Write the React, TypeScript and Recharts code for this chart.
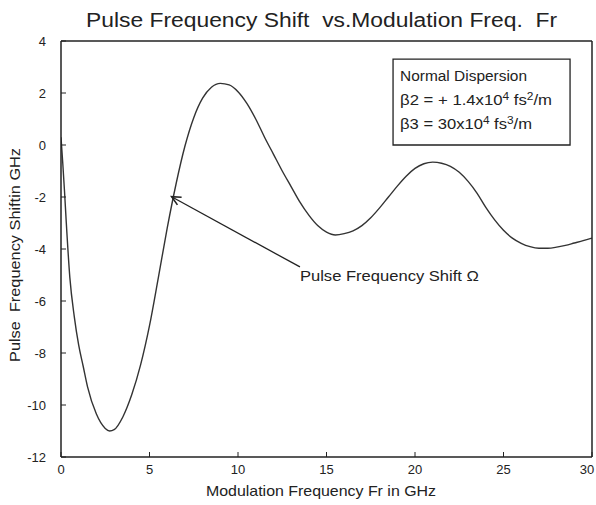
import React from 'react';
import { LineChart, Line, XAxis, YAxis, ReferenceArea, ReferenceLine } from 'recharts';

// modulation frequency Fr (GHz)
const freq = [
  0, 0.1, 0.2, 0.3, 0.5, 0.75, 1, 1.25, 1.5, 2, 2.5, 2.75, 3, 3.5, 4, 4.5, 5, 5.5, 6, 6.5,
  7, 7.5, 8, 8.5, 9, 9.5, 10, 10.5, 11, 11.5, 12, 12.5, 13, 13.5, 14, 14.5, 15, 15.5, 16, 16.5,
  17, 17.5, 18, 18.5, 19, 19.5, 20, 20.5, 21, 21.5, 22, 22.5, 23, 23.5, 24, 24.5, 25, 25.5, 26, 26.5,
  27, 27.5, 28, 28.5, 29, 29.5, 30,
];

// pulse frequency shift (GHz)
const shift = [
  0.3, -0.7, -1.8, -3.0, -5.1, -6.6, -7.7, -8.5, -9.3, -10.35, -10.9, -11.0, -10.95, -10.45, -9.6, -8.45, -6.95, -5.1, -3.2, -1.5,
  -0.05, 1.05, 1.8, 2.22, 2.37, 2.31, 2.05, 1.6, 1.0, 0.3, -0.35, -1.0, -1.6, -2.2, -2.7, -3.1, -3.35, -3.46, -3.41, -3.3,
  -3.1, -2.8, -2.42, -2.0, -1.58, -1.2, -0.9, -0.72, -0.66, -0.7, -0.82, -1.05, -1.4, -1.85, -2.4, -2.88, -3.28, -3.58, -3.78, -3.91,
  -3.97, -3.97, -3.93, -3.86, -3.77, -3.68, -3.58,
];

const xTicks = [0, 5, 10, 15, 20, 25, 30];
const yTicks = [-12, -10, -8, -6, -4, -2, 0, 2, 4];

// annotation anchors, in data units
const noteBox = { x1: 18.76, x2: 28.76, y1: 0, y2: 3.3 };
const arrowTail = { x: 13.5, y: -4.69 };
const arrowTip = { x: 6.25, y: -1.99 };

const data = freq.map((x, i) => ({ x, y: shift[i] }));

const FONT = '"Liberation Sans", Arial, sans-serif';
const INK = '#222';

const tickStyle = { fill: INK, fontSize: 13, fontFamily: FONT };

// last label sits against the right edge in the original, pull it in a bit
const XTick = (props: any) => {
  const { x, y, payload } = props;
  const shiftLeft = payload.value === 30 ? 5 : 0;
  return (
    <text x={x - shiftLeft} y={y} dy="0.71em" textAnchor="middle" fontSize={13} fontFamily={FONT} fill={INK}>
      {payload.value}
    </text>
  );
};

const NoteText = (props: any) => {
  const vb = props.viewBox || {};
  const x = vb.x + 7;
  const y = vb.y;
  const common = { x, fontSize: 14, fontFamily: FONT, fill: INK, lengthAdjust: 'spacingAndGlyphs' as const };
  return (
    <g>
      <text {...common} y={y + 22} textLength={127}>Normal Dispersion</text>
      <text {...common} y={y + 46} textLength={152} style={{ whiteSpace: 'pre' }}>
        {'β2 = + 1.4x10'}
        <tspan dy={-5} fontSize={10}>4</tspan>
        <tspan dy={5}>{' fs'}</tspan>
        <tspan dy={-5} fontSize={10}>2</tspan>
        <tspan dy={5}>/m</tspan>
      </text>
      <text {...common} y={y + 70} textLength={132} style={{ whiteSpace: 'pre' }}>
        {'β3 = 30x10'}
        <tspan dy={-5} fontSize={10}>4</tspan>
        <tspan dy={5}>{' fs'}</tspan>
        <tspan dy={-5} fontSize={10}>3</tspan>
        <tspan dy={5}>/m</tspan>
      </text>
    </g>
  );
};

const ArrowShape = (props: any) => {
  const { x1, y1, x2, y2 } = props;
  const ang = Math.atan2(y2 - y1, x2 - x1);
  const len = 10;
  const spread = 0.45;
  const a1 = { x: x2 - len * Math.cos(ang - spread), y: y2 - len * Math.sin(ang - spread) };
  const a2 = { x: x2 - len * Math.cos(ang + spread), y: y2 - len * Math.sin(ang + spread) };
  return (
    <g>
      <line x1={x1} y1={y1} x2={x2} y2={y2} stroke={INK} strokeWidth={1.3} />
      <polyline points={`${a1.x},${a1.y} ${x2},${y2} ${a2.x},${a2.y}`} fill="none" stroke={INK} strokeWidth={1.6} />
      <text x={x1} y={y1 + 14} fontSize={14} fontFamily={FONT} fill={INK} textLength={179} lengthAdjust="spacingAndGlyphs">
        Pulse Frequency Shift Ω
      </text>
    </g>
  );
};

const YTitle = () => (
  <text
    x={20}
    y={255}
    transform="rotate(-90, 20, 255)"
    textAnchor="middle"
    fontSize={14}
    fontFamily={FONT}
    fill={INK}
    textLength={214}
    lengthAdjust="spacingAndGlyphs"
    style={{ whiteSpace: 'pre' }}
  >
    {'Pulse  Frequency Shiftin GHz'}
  </text>
);

const XTitle = () => (
  <text
    x={321}
    y={496}
    textAnchor="middle"
    fontSize={15}
    fontFamily={FONT}
    fill={INK}
    textLength={230}
    lengthAdjust="spacingAndGlyphs"
  >
    Modulation Frequency Fr in GHz
  </text>
);

export default function App() {
  return (
    <div style={{ position: 'absolute', left: 0, top: 0, width: 596, height: 505, background: '#fff' }}>
      <svg width={596} height={40} style={{ position: 'absolute', left: 0, top: 0 }}>
        <text
          x={86}
          y={27}
          fontSize={20}
          fontFamily={FONT}
          fill={INK}
          textLength={471}
          lengthAdjust="spacingAndGlyphs"
          style={{ whiteSpace: 'pre' }}
        >
          {'Pulse Frequency Shift  vs.Modulation Freq.  Fr'}
        </text>
      </svg>
      <div style={{ position: 'absolute', left: 0, top: 0 }}>
        <LineChart width={596} height={505} data={data} margin={{ top: 40, right: 3, bottom: 0, left: 0 }}>
          <XAxis
            dataKey="x"
            type="number"
            domain={[0, 30]}
            ticks={xTicks}
            interval={0}
            allowDataOverflow
            height={48}
            tickSize={-5}
            tickMargin={13}
            axisLine={{ stroke: INK, strokeWidth: 1.5 }}
            tickLine={{ stroke: INK }}
            tick={<XTick />}
            label={<XTitle />}
          />
          <XAxis
            xAxisId="top"
            dataKey="x"
            type="number"
            orientation="top"
            domain={[0, 30]}
            ticks={xTicks}
            interval={0}
            allowDataOverflow
            height={1}
            tickSize={-5}
            axisLine={{ stroke: INK, strokeWidth: 1.5 }}
            tickLine={{ stroke: INK }}
            tick={false}
          />
          <YAxis
            dataKey="y"
            type="number"
            domain={[-12, 4]}
            ticks={yTicks}
            interval={0}
            allowDataOverflow
            width={61}
            tickSize={-5}
            tickMargin={20}
            axisLine={{ stroke: INK, strokeWidth: 1.5 }}
            tickLine={{ stroke: INK }}
            tick={tickStyle}
            label={<YTitle />}
          />
          <YAxis
            yAxisId="right"
            dataKey="y"
            type="number"
            orientation="right"
            domain={[-12, 4]}
            ticks={yTicks}
            interval={0}
            allowDataOverflow
            width={1}
            tickSize={-5}
            axisLine={{ stroke: INK, strokeWidth: 1.5 }}
            tickLine={{ stroke: INK }}
            tick={false}
          />
          <ReferenceArea
            x1={noteBox.x1}
            x2={noteBox.x2}
            y1={noteBox.y1}
            y2={noteBox.y2}
            fill="#fff"
            fillOpacity={1}
            stroke={INK}
            strokeWidth={1.3}
            label={(p: any) => <NoteText {...p} />}
          />
          <Line
            type="monotone"
            dataKey="y"
            stroke="#333"
            strokeWidth={1.4}
            dot={false}
            activeDot={false}
            isAnimationActive={false}
          />
          <ReferenceLine segment={[arrowTail, arrowTip]} shape={(p: any) => <ArrowShape {...p} />} />
        </LineChart>
      </div>
    </div>
  );
}
